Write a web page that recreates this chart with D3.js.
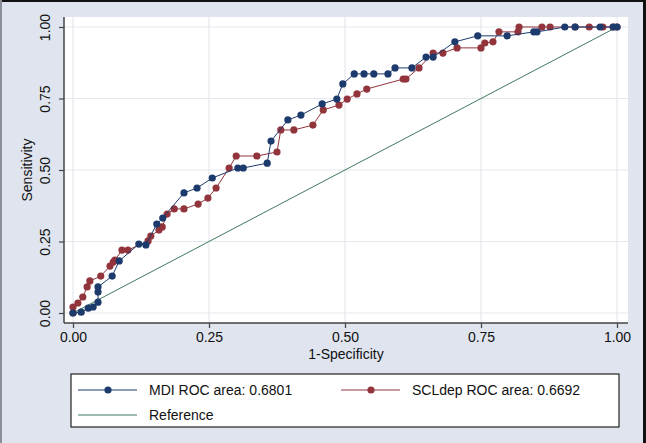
<!DOCTYPE html>
<html>
<head>
<meta charset="utf-8">
<script src="https://cdn.jsdelivr.net/npm/d3@7"></script>
<style>
  body { margin: 0; background: #dfe4ee; }
  svg { display: block; font-family: Arial, "Liberation Sans", sans-serif; }
</style>
</head>
<body>
<svg width="646" height="443"></svg>
<script>
// 1-specificity / sensitivity pairs
const mdiX = [0, 0.015, 0.028, 0.037, 0.046, 0.046, 0.046, 0.072, 0.085, 0.121, 0.134, 0.154, 0.165, 0.204, 0.228, 0.256, 0.303, 0.313, 0.357, 0.364, 0.395, 0.419, 0.458, 0.485, 0.496, 0.517, 0.535, 0.553, 0.579, 0.592, 0.623, 0.649, 0.662, 0.702, 0.744, 0.798, 0.847, 0.853, 0.904, 0.923, 0.969, 0.993, 1];
const mdiY = [0, 0.003, 0.017, 0.021, 0.038, 0.073, 0.091, 0.129, 0.182, 0.241, 0.238, 0.311, 0.332, 0.420, 0.437, 0.472, 0.507, 0.507, 0.524, 0.601, 0.675, 0.692, 0.731, 0.748, 0.801, 0.836, 0.836, 0.836, 0.836, 0.857, 0.857, 0.895, 0.895, 0.948, 0.969, 0.969, 0.983, 0.983, 1, 1, 1, 1, 1];

const sclX = [0, 0, 0.009, 0.018, 0.026, 0.031, 0.051, 0.068, 0.074, 0.077, 0.090, 0.101, 0.138, 0.143, 0.158, 0.164, 0.173, 0.186, 0.204, 0.230, 0.248, 0.263, 0.287, 0.300, 0.338, 0.375, 0.382, 0.406, 0.441, 0.460, 0.489, 0.504, 0.522, 0.540, 0.607, 0.612, 0.636, 0.662, 0.680, 0.706, 0.750, 0.757, 0.772, 0.783, 0.818, 0.820, 0.862, 0.877, 0.923, 0.949, 0.974, 0.993, 1];
const sclY = [0, 0.021, 0.035, 0.056, 0.091, 0.112, 0.129, 0.164, 0.178, 0.185, 0.220, 0.220, 0.252, 0.269, 0.290, 0.301, 0.346, 0.364, 0.364, 0.381, 0.402, 0.437, 0.507, 0.549, 0.549, 0.563, 0.640, 0.640, 0.657, 0.710, 0.727, 0.748, 0.766, 0.783, 0.818, 0.818, 0.857, 0.909, 0.909, 0.927, 0.927, 0.944, 0.948, 0.983, 0.983, 1, 1, 1, 1, 1, 1, 1, 1];

const tickValues = [0, 0.25, 0.5, 0.75, 1];
const seriesNames = ["MDI ROC area: 0.6801", "SCLdep ROC area: 0.6692", "Reference"];
const xTitle = "1-Specificity";
const yTitle = "Sensitivity";

const navy = "#1d3a6c";
const maroon = "#92343c";
const green = "#3f7a5e";

const svg = d3.select("svg");

// frame edges of the screenshot
svg.append("rect").attr("x", 0).attr("y", 0).attr("width", 646).attr("height", 443).attr("fill", "#dfe4ee");
svg.append("rect").attr("x", 0).attr("y", 0).attr("width", 646).attr("height", 2).attr("fill", "#111");
svg.append("rect").attr("x", 0).attr("y", 0).attr("width", 2).attr("height", 443).attr("fill", "#8a8f99");
svg.append("rect").attr("x", 643).attr("y", 0).attr("width", 3).attr("height", 443).attr("fill", "#111");

// plot region
svg.append("rect").attr("x", 64).attr("y", 17).attr("width", 564).attr("height", 306).attr("fill", "#fff");

const x = d3.scaleLinear().domain([0, 1]).range([73, 617]);
const y = d3.scaleLinear().domain([0, 1]).range([313, 27]);

// grid
svg.append("g").selectAll("line.gx").data(tickValues).join("line")
  .attr("x1", d => x(d)).attr("x2", d => x(d)).attr("y1", 17).attr("y2", 323)
  .attr("stroke", "#e4e8ee").attr("stroke-width", 1.2);
svg.append("g").selectAll("line.gy").data(tickValues).join("line")
  .attr("y1", d => y(d)).attr("y2", d => y(d)).attr("x1", 64).attr("x2", 628)
  .attr("stroke", "#e4e8ee").attr("stroke-width", 1.2);

// axes
const xAxis = svg.append("g").attr("transform", "translate(0,323)")
  .call(d3.axisBottom(x).tickValues(tickValues).tickFormat(d3.format(".2f")).tickSize(5).tickSizeOuter(0));
const yAxis = svg.append("g").attr("transform", "translate(64,0)")
  .call(d3.axisLeft(y).tickValues(tickValues).tickFormat(d3.format(".2f")).tickSize(5).tickSizeOuter(0));

xAxis.select(".domain").attr("d", "M64,0H628").attr("stroke", "#444").attr("stroke-width", 1.5);
yAxis.select(".domain").attr("d", "M0,17V323").attr("stroke", "#444").attr("stroke-width", 1.5);
svg.selectAll(".tick line").attr("stroke", "#444").attr("stroke-width", 1.2);
svg.selectAll(".tick text").attr("font-size", 14).attr("font-family", "Arial, 'Liberation Sans', sans-serif").attr("fill", "#111");
xAxis.selectAll(".tick text").attr("y", 9);
yAxis.selectAll(".tick text")
  .attr("x", null).attr("dy", null)
  .attr("text-anchor", "middle")
  .attr("transform", "translate(-14,0) rotate(-90)");

// axis titles
svg.append("text").attr("x", 346).attr("y", 359).attr("text-anchor", "middle")
  .attr("font-size", 14).attr("fill", "#111").text(xTitle);
svg.append("text").attr("transform", "translate(32,170) rotate(-90)").attr("text-anchor", "middle")
  .attr("font-size", 14).attr("fill", "#111").text(yTitle);

// reference line
svg.append("line").attr("x1", x(0)).attr("y1", y(0)).attr("x2", x(1)).attr("y2", y(1))
  .attr("stroke", green).attr("stroke-width", 1);

const line = d3.line().x(d => x(d[0])).y(d => y(d[1]));

function drawSeries(xs, ys, color) {
  const pts = xs.map((v, i) => [v, ys[i]]);
  const g = svg.append("g");
  g.append("path").datum(pts).attr("d", line).attr("fill", "none").attr("stroke", color).attr("stroke-width", 1);
  g.selectAll("circle").data(pts).join("circle")
    .attr("cx", d => x(d[0])).attr("cy", d => y(d[1])).attr("r", 3.6).attr("fill", color);
}
drawSeries(sclX, sclY, maroon);
drawSeries(mdiX, mdiY, navy);

// legend
const lg = svg.append("g");
lg.append("rect").attr("x", 71).attr("y", 374).attr("width", 548).attr("height", 53)
  .attr("fill", "#fff").attr("stroke", "#222").attr("stroke-width", 1.2);
const legendItems = [
  { name: seriesNames[0], color: navy, marker: true, lx: 78, ly: 390 },
  { name: seriesNames[1], color: maroon, marker: true, lx: 341, ly: 390 },
  { name: seriesNames[2], color: green, marker: false, lx: 78, ly: 415 }
];
legendItems.forEach(d => {
  lg.append("line").attr("x1", d.lx).attr("x2", d.lx + 59).attr("y1", d.ly).attr("y2", d.ly)
    .attr("stroke", d.color).attr("stroke-width", 1);
  if (d.marker) lg.append("circle").attr("cx", d.lx + 30).attr("cy", d.ly).attr("r", 3.6).attr("fill", d.color);
  lg.append("text").attr("x", d.lx + 71).attr("y", d.ly + 5).attr("font-size", 14).attr("fill", "#111").text(d.name);
});
</script>
</body>
</html>
